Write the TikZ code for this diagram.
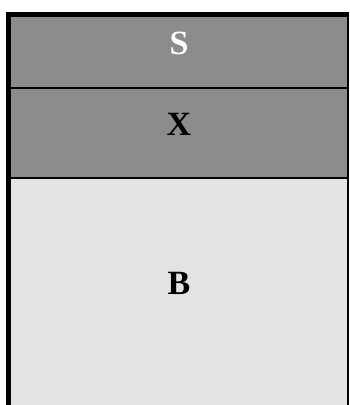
\documentclass[tikz,border=0pt]{standalone}
\usepackage{fontspec}
\setmainfont{Liberation Serif}
\definecolor{darkfill}{RGB}{140,140,140}
\definecolor{lightfill}{RGB}{227,227,227}
\begin{document}
\begin{tikzpicture}[x=1pt,y=-1pt,
  lbl/.style={font=\fontsize{34}{36}\selectfont\bfseries, inner sep=0pt}]
\useasboundingbox (0,0) rectangle (349,405);
% fills
\fill[darkfill] (8.5,14.5) rectangle (348,88);
\fill[darkfill] (8.5,88) rectangle (348,178);
\fill[lightfill] (8.5,178) rectangle (348,405);
% dividers
\draw[line width=2pt] (8.5,88) -- (348,88);
\draw[line width=2pt] (8.5,178) -- (348,178);
% outer borders
\draw[line width=2pt] (348,14.5) -- (348,405);
\draw[line width=5pt] (8.5,405) -- (8.5,14.5) -- (349,14.5);
% labels
\node[lbl, text=white] (s) at (179,43) {S};
\node[lbl] (x) at (179,124) {X};
\node[lbl] (b) at (179,283) {B};
\end{tikzpicture}
\end{document}
